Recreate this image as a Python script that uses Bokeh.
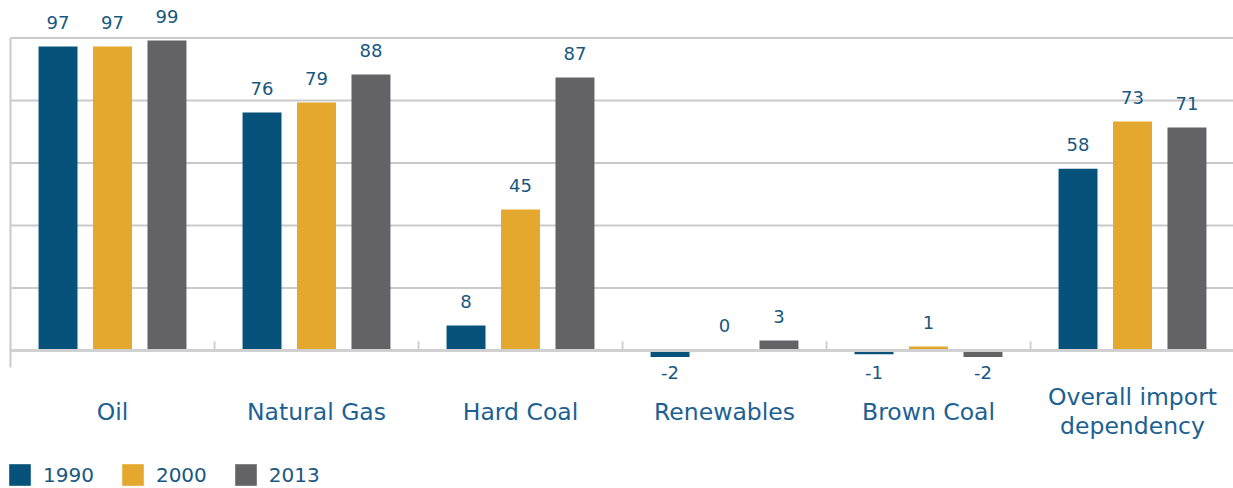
from bokeh.plotting import figure
from bokeh.models import ColumnDataSource, Range1d, Legend, LegendItem
from bokeh.core.properties import value
from bokeh.embed import file_html
from bokeh.resources import INLINE

# ---- data ----
categories = ["Oil", "Natural Gas", "Hard Coal", "Renewables", "Brown Coal",
              "Overall import\ndependency"]
years = ["1990", "2000", "2013"]
v1990 = [97.3, 76.2, 8.0, -2.1, -1.2, 58.2]
v2000 = [97.3, 79.4, 45.1, 0.3, 1.3, 73.3]
v2013 = [99.2, 88.3, 87.4, 3.2, -2.1, 71.4]
grid_values = [20, 40, 60, 80, 100]

# ---- style ----
colors = ["#06527a", "#e3a82d", "#636366"]
offsets = [-0.267, 0.0, 0.267]
bar_width = 0.191
FONT = "DejaVu Sans"
val_color = "#17587f"
cat_color = "#1b6192"
grid_color = "#cacaca"

p = figure(width=1233, height=488, output_backend="svg", toolbar_location=None,
           x_range=Range1d(-10 / 204, 1223 / 204), y_range=Range1d(-44.16, 112.0),
           x_axis_location=None, y_axis_location=None, min_border=0,
           outline_line_color=None, background_fill_color="white")
p.xgrid.visible = False
p.ygrid.visible = False

n = len(categories)
# gridlines
p.segment(x0=[0] * len(grid_values), x1=[n + 0.1] * len(grid_values),
          y0=grid_values, y1=grid_values, line_color=grid_color, line_width=2)
# left axis line
p.segment(x0=[0], x1=[0], y0=[-5.44], y1=[grid_values[-1]], line_color=grid_color, line_width=2)

renderers = []
lab_x, lab_y, lab_t, lab_off = [], [], [], []
for k, (yr, vals) in enumerate(zip(years, [v1990, v2000, v2013])):
    xs = [i + 0.5 + offsets[k] for i in range(n)]
    src = ColumnDataSource(dict(x=xs, top=vals))
    r = p.vbar(x="x", top="top", bottom=0, width=bar_width, source=src,
               fill_color=colors[k], line_color=None)
    renderers.append(r)
    for x, v in zip(xs, vals):
        lab_x.append(x)
        lab_y.append(max(v, 0))
        lab_t.append(f"{round(v):d}")
        lab_off.append(-24 if v >= 0 else 22)

# zero axis line and category boundary ticks
p.segment(x0=[0], x1=[n + 0.1], y0=[0], y1=[0], line_color="#d0d0d0", line_width=3)
p.segment(x0=list(range(1, n + 1)), x1=list(range(1, n + 1)),
          y0=[0] * n, y1=[2.9] * n, line_color="#d0d0d0", line_width=2)

# value labels
p.text(x="x", y="y", text="t", y_offset="off",
       source=ColumnDataSource(dict(x=lab_x, y=lab_y, t=lab_t, off=lab_off)),
       text_align="center", text_baseline="middle",
       text_font=value(FONT), text_font_size="18px", text_color=val_color)

# category labels
p.text(x=[i + 0.5 for i in range(n)], y=[0] * n, text=categories, y_offset=61,
       text_align="center", text_baseline="middle", text_line_height=1.06,
       text_font=value(FONT), text_font_size="23.5px", text_color=cat_color)

legend = Legend(items=[LegendItem(label=yr, renderers=[r]) for yr, r in zip(years, renderers)],
                orientation="horizontal", location=(6, 0), padding=0, margin=0,
                spacing=25, label_standoff=10, glyph_width=27, glyph_height=27,
                label_text_font=FONT, label_text_font_size="20px", label_text_color=val_color,
                border_line_color=None, background_fill_alpha=0)
p.add_layout(legend)

open("out.html", "w").write(file_html(p, INLINE))
